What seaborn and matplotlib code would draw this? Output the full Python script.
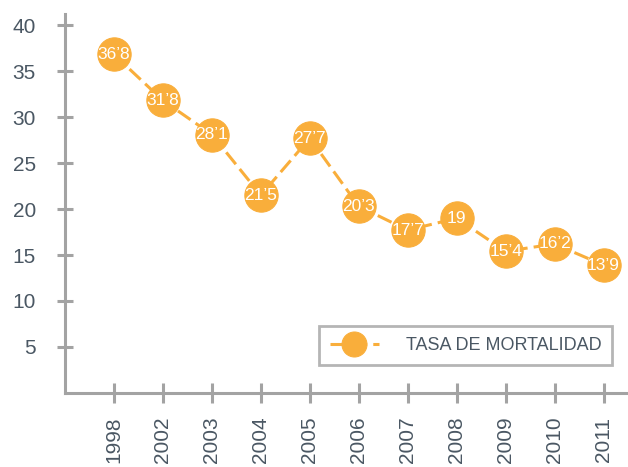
import matplotlib
matplotlib.use("Agg")
import matplotlib.pyplot as plt
import seaborn as sns
import pandas as pd

# 数据
years = ["1998", "2002", "2003", "2004", "2005", "2006", "2007", "2008", "2009", "2010", "2011"]
tasa = [36.8, 31.8, 28.1, 21.5, 27.7, 20.3, 17.7, 19, 15.4, 16.2, 13.9]
etiquetas = ["36’8", "31’8", "28’1", "21’5", "27’7", "20’3", "17’7", "19", "15’4", "16’2", "13’9"]
y_ticks = [5, 10, 15, 20, 25, 30, 35, 40]

sns.set_style("white")
plt.rcParams["font.family"] = ["Liberation Sans", "DejaVu Sans"]

naranja = "#F9AE3B"
gris = "#A3A3A3"
texto = "#4A5763"

df = pd.DataFrame({"pos": range(1, len(years) + 1), "tasa": tasa})

fig = plt.figure(figsize=(6.28, 4.67), dpi=100)
ax = fig.add_axes([0.1035, 0.1585, 0.8965, 0.8115])

sns.lineplot(data=df, x="pos", y="tasa", ax=ax, color=naranja, linewidth=2.2,
             linestyle=(0, (5, 2)), marker="o", markersize=24,
             markeredgecolor=naranja, markerfacecolor=naranja,
             label="TASA DE MORTALIDAD")

for p, v, t in zip(df["pos"], tasa, etiquetas):
    ax.text(p, v, t, color="white", fontsize=12.5, ha="center", va="center")

ax.set_xlim(0, 11.5)
ax.set_ylim(0, 41.2)
ax.set_xticks(df["pos"])
ax.set_xticklabels(years, rotation=90)
ax.set_yticks(y_ticks)
ax.set_xlabel("")
ax.set_ylabel("")

for s in ["top", "right"]:
    ax.spines[s].set_visible(False)
for s in ["left", "bottom"]:
    ax.spines[s].set_color(gris)
    ax.spines[s].set_linewidth(2.2)

ax.tick_params(axis="y", left=True, direction="inout", length=12, width=2.2, color=gris,
               labelsize=15, labelcolor=texto, pad=15)
ax.tick_params(axis="x", bottom=True, direction="inout", length=14, width=2.2, color=gris,
               labelsize=15, labelcolor=texto, pad=10)

leg = ax.legend(loc="lower right", bbox_to_anchor=(0.972, 0.074), borderaxespad=0,
                fontsize=13, handlelength=2.7, handletextpad=1.5, markerscale=0.75,
                fancybox=False, borderpad=0.6, labelcolor=texto)
leg.get_frame().set_edgecolor(gris)
leg.get_frame().set_linewidth(2)

fig.savefig("out.png", dpi=100)
plt.close()
